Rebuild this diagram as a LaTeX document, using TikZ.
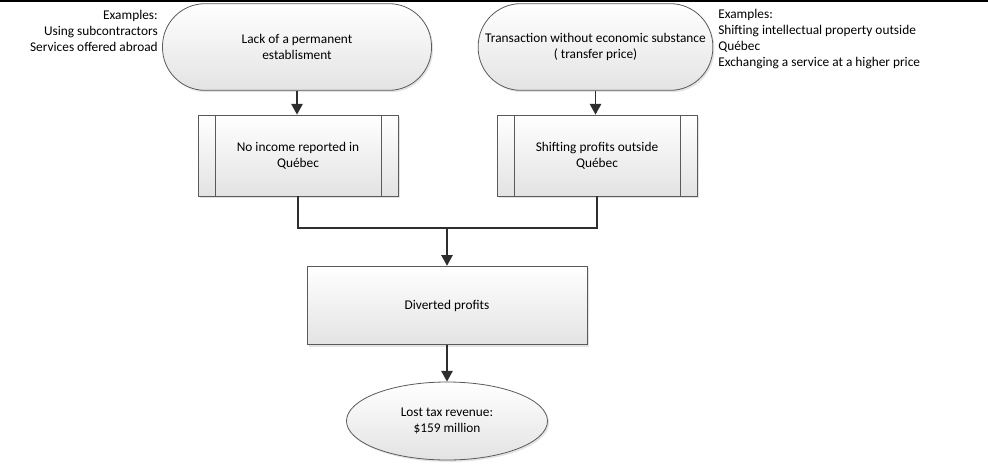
\documentclass[tikz,border=0pt]{standalone}
\usepackage{fontspec}
\setmainfont{Carlito}
\usepackage{tikz}
\usetikzlibrary{positioning,shadows,arrows.meta,shapes.geometric}
\definecolor{linec}{HTML}{5A5A5A}
\definecolor{arrc}{HTML}{2E2E2E}

\begin{document}
\begin{tikzpicture}[x=0.75pt, y=-0.75pt, font=\fontsize{10}{12}\selectfont,
  >={Triangle[length=8pt, width=8.5pt]},
  base/.style={draw=linec, line width=0.6pt, align=center, inner sep=2pt,
               top color=white, bottom color=black!11,
               drop shadow={opacity=0.22, shadow xshift=1.2pt, shadow yshift=-1.4pt}},
  term/.style={base, rounded corners=32pt, minimum height=65pt},
  procbox/.style={base, minimum width=150pt, minimum height=60.75pt,
    path picture={
      \draw[linec, line width=0.6pt]
        ([xshift=12.75pt]path picture bounding box.north west) --
        ([xshift=12.75pt]path picture bounding box.south west)
        ([xshift=-12.75pt]path picture bounding box.north east) --
        ([xshift=-12.75pt]path picture bounding box.south east);}},
  plain/.style={base, minimum width=210pt, minimum height=59pt},
  oval/.style={base, ellipse, minimum width=150.75pt, minimum height=58.5pt, inner sep=0pt},
  note/.style={inner sep=0pt},
  flow/.style={->, arrc, line width=1.1pt}]
  \useasboundingbox (0,0) rectangle (988,471);
  \draw[black, line width=1.5pt] (0,1) -- (988,1);
  % top row
  \node[term, minimum width=201.75pt] (pe) at (297,47) {Lack of a permanent\\establisment};
  \node[term, minimum width=176pt] (tp) at (595.5,47) {Transaction without economic substance\\( transfer price)};
  \node[note, anchor=east, align=right] (exl) at (158,31)
        {Examples:\\Using subcontractors\\Services offered abroad};
  \node[note, anchor=west, align=left] (exr) at (718,39)
        {Examples:\\Shifting intellectual property outside\\Québec\\Exchanging a service at a higher price};
  % middle row
  \node[procbox] (nir) at (298,155.5) {No income reported in\\Québec};
  \node[procbox] (spo) at (597,155.5) {Shifting profits outside\\Québec};
  \node[plain] (dp) at (447,305.5) {Diverted profits};
  \node[oval] (ltr) at (447,421) {Lost tax revenue:\\\$159 million};
  \coordinate (join) at (447,228);
  \draw[flow] (pe.south) -- (pe.south |- nir.north);
  \draw[flow] (tp.south) -- (tp.south |- spo.north);
  \draw[arrc, line width=1.1pt] (nir.south) |- (join) -| (spo.south);
  \draw[flow] (join) -- (dp.north);
  \draw[flow] (dp) -- (ltr);
\end{tikzpicture}
\end{document}
